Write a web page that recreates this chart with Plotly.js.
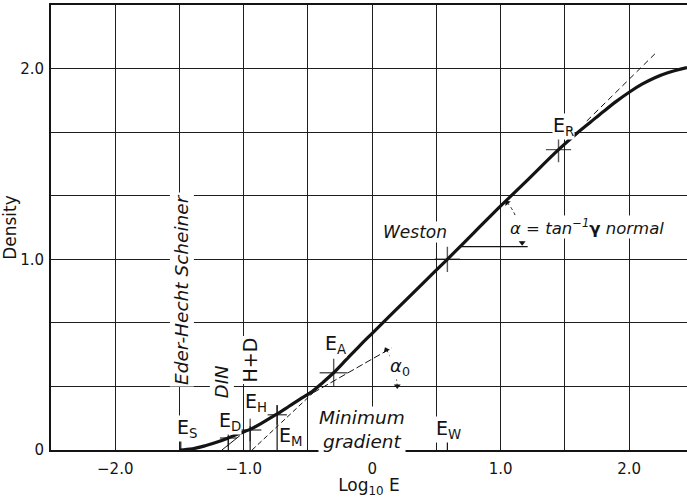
<!DOCTYPE html>
<html>
<head>
<meta charset="utf-8">
<script src="https://cdn.plot.ly/plotly-3.0.1.min.js"></script>
<style>html,body{margin:0;padding:0;background:#fff;}#chart{width:687px;height:498px;}</style>
</head>
<body>
<div id="chart"></div>
<script>
// ---- Characteristic curve (log10 E, density) ----
const curveLogE = [-1.50,-1.40,-1.30,-1.20,-1.12,-1.05,-0.95,-0.85,-0.75,-0.65,-0.55,-0.47,-0.40,-0.30,-0.20,-0.10,0.00,0.20,0.40,0.585,0.80,1.00,1.20,1.45,1.60,1.70,1.80,1.90,2.00,2.10,2.20,2.30,2.45];
const curveDensity = [0.000,0.006,0.022,0.043,0.063,0.083,0.108,0.145,0.185,0.228,0.272,0.305,0.345,0.405,0.475,0.545,0.612,0.745,0.878,1.000,1.145,1.280,1.410,1.575,1.665,1.720,1.775,1.828,1.876,1.918,1.952,1.978,2.005];

// ---- Speed points marked with crosses ----
const pointNames = ['E_D','E_H','E_M','E_A','Weston','E_R'];
const pointLogE = [-1.12,-0.95,-0.74,-0.30,0.585,1.45];
const pointDensity = [0.063,0.105,0.185,0.405,1.000,1.575];

// ---- Vertical drop ticks to the axis ----
const dropLogE = [-1.49,-1.12,-0.95,-0.74,0.585];
const dropTopDensity = [0.075,0.075,0.125,0.235,0.05];

// ---- Construction lines [x0,x1],[y0,y1] ----
const gammaExtLogE = [1.67, 2.20];
const gammaExtDensity = [1.725, 2.077];
const toeTangentLogE = [-0.935, -0.46];
const toeTangentDensity = [0.0, 0.30];
const minGradLogE = [-0.46, 0.15];
const minGradDensity = [0.30, 0.535];
const chordLogE = [-1.17, -1.03];
const chordDensity = [0.0, 0.075];
const alphaBaseLogE = [0.68, 1.21];
const alphaBaseDensity = [1.066, 1.066];
// angle arcs: start, control, end
const alphaArcLogE = [1.05, 1.138, 1.167];
const alphaArcDensity = [1.297, 1.234, 1.087];
const alpha0ArcLogE = [0.109, 0.179, 0.195];
const alpha0ArcDensity = [0.525, 0.462, 0.336];

// ---- Axis ticks ----
const xTickVals = [-2.0,-1.0,0,1.0,2.0];
const xTickText = ['\u22122.0','\u22121.0','0','1.0','2.0'];
const xMinorVals = [-2.5,-1.5,-0.5,0.5,1.5];
const yTickVals = [0,1,2];
const yTickText = ['0','1.0','2.0'];
const yMinorVals = [1/3,2/3,4/3,5/3,7/3];

// ---- Labels (text, log E, density) ----
const labelTexts = ['E<sub>S</sub>','E<sub>D</sub>','E<sub>H</sub>','E<sub>M</sub>','E<sub>A</sub>','E<sub>W</sub>','E<sub>R</sub>'];
const labelLogE = [-1.44,-1.105,-0.905,-0.632,-0.285,0.595,1.485];
const labelDensity = [0.112,0.15,0.25,0.07,0.553,0.107,1.697];
const noteTexts = ['<i>Weston</i>','<i>\u03b1 = tan<sup>\u22121</sup></i><b>\u03b3</b><i> normal</i>','<i>\u03b1</i><sub>0</sub>','<i>Minimum<br>gradient</i>'];
const noteLogE = [0.335,1.673,0.218,-0.078];
const noteDensity = [1.144,1.17,0.436,0.11];
const rotLabelTexts = ['<i>Eder-Hecht Scheiner</i>','<i>DIN</i>','H+D'];
const rotLabelLogE = [-1.479,-1.167,-0.95];
const rotLabelDensity = [0.84,0.357,0.47];

const ink = '#141414';
const gridInk = '#1e1e1e';
const fontFam = 'DejaVu Sans, sans-serif';

const traces = [];
function seg(xs, ys, w, dash) {
  traces.push({x: xs, y: ys, mode: 'lines', line: {color: ink, width: w, dash: dash || 'solid'}, hoverinfo: 'skip', showlegend: false});
}
seg(gammaExtLogE, gammaExtDensity, 1, '6px,4px');
seg(toeTangentLogE, toeTangentDensity, 1, '5px,3px');
seg(minGradLogE, minGradDensity, 1, '7px,3px');
seg(chordLogE, chordDensity, 1);
seg(alphaBaseLogE, alphaBaseDensity, 1.3);
dropLogE.forEach((x, i) => seg([x, x], [0, dropTopDensity[i]], 1.2));

traces.push({x: curveLogE, y: curveDensity, mode: 'lines', line: {color: ink, width: 3.2, shape: 'spline', smoothing: 1}, hoverinfo: 'skip', showlegend: false, name: 'Characteristic curve'});
traces.push({x: pointLogE, y: pointDensity, text: pointNames, mode: 'markers', showlegend: false, hoverinfo: 'text',
  marker: {symbol: 'cross-thin', size: [12, 16, 14, 20, 18, 18], color: ink, line: {color: ink, width: 1.4}}});
// arrowheads at the ends of the angle arcs
traces.push({x: [alphaArcLogE[0], alphaArcLogE[2], alpha0ArcLogE[0], alpha0ArcLogE[2]],
  y: [alphaArcDensity[0], alphaArcDensity[2], alpha0ArcDensity[0], alpha0ArcDensity[2]],
  mode: 'markers', showlegend: false, hoverinfo: 'skip',
  marker: {symbol: 'triangle-up', size: 6, color: ink, angle: [-40, 180, -25, 180], line: {width: 0}}});

function arcPath(xs, ys) {
  return 'M ' + xs[0] + ',' + ys[0] + ' Q ' + xs[1] + ',' + ys[1] + ' ' + xs[2] + ',' + ys[2];
}
const shapes = [
  {type: 'path', xref: 'x', yref: 'y', path: arcPath(alphaArcLogE, alphaArcDensity), line: {color: ink, width: 1, dash: 'dot'}},
  {type: 'path', xref: 'x', yref: 'y', path: arcPath(alpha0ArcLogE, alpha0ArcDensity), line: {color: ink, width: 1, dash: 'dot'}}
];

const annotations = [];
labelTexts.forEach((t, i) => annotations.push({x: labelLogE[i], y: labelDensity[i], xref: 'x', yref: 'y', text: t, showarrow: false,
  font: {family: fontFam, size: 19, color: ink}, bgcolor: '#fff', borderpad: 0}));
const noteSizes = [17, 16.5, 18, 18.5];
noteTexts.forEach((t, i) => annotations.push({x: noteLogE[i], y: noteDensity[i], xref: 'x', yref: 'y', text: t, showarrow: false,
  font: {family: fontFam, size: noteSizes[i], color: ink}, bgcolor: '#fff', borderpad: 0}));
const rotSizes = [18.5, 18, 19];
rotLabelTexts.forEach((t, i) => annotations.push({x: rotLabelLogE[i], y: rotLabelDensity[i], xref: 'x', yref: 'y', text: t, showarrow: false, textangle: -90,
  font: {family: fontFam, size: rotSizes[i], color: ink}, bgcolor: '#fff', borderpad: 1}));

const layout = {
  width: 687, height: 498,
  margin: {l: 51, r: 0, t: 5, b: 48},
  paper_bgcolor: '#fff', plot_bgcolor: '#fff',
  font: {family: fontFam, color: ink, size: 15},
  xaxis: {range: [-2.5, 2.45], tickmode: 'array', tickvals: xTickVals, ticktext: xTickText, ticks: '',
    showgrid: true, gridcolor: gridInk, gridwidth: 1, zeroline: false, showline: true, linecolor: ink, linewidth: 2, mirror: true,
    minor: {tickmode: 'array', tickvals: xMinorVals, showgrid: true, gridcolor: gridInk, gridwidth: 1, ticks: ''},
    tickfont: {size: 15}, ticklabelstandoff: 4,
    title: {text: 'Log<sub>10</sub> E', font: {size: 17}, standoff: 3}},
  yaxis: {range: [0, 7/3], tickmode: 'array', tickvals: yTickVals, ticktext: yTickText, ticks: '',
    showgrid: true, gridcolor: gridInk, gridwidth: 1, zeroline: false, showline: true, linecolor: ink, linewidth: 2,
    minor: {tickmode: 'array', tickvals: yMinorVals, showgrid: true, gridcolor: gridInk, gridwidth: 1, ticks: ''},
    tickfont: {size: 15}, ticklabelstandoff: 2,
    title: {text: 'Density', font: {size: 17}, standoff: 6}},
  shapes: shapes,
  annotations: annotations,
  showlegend: false
};
Plotly.newPlot('chart', traces, layout, {displayModeBar: false});
</script>
</body>
</html>
